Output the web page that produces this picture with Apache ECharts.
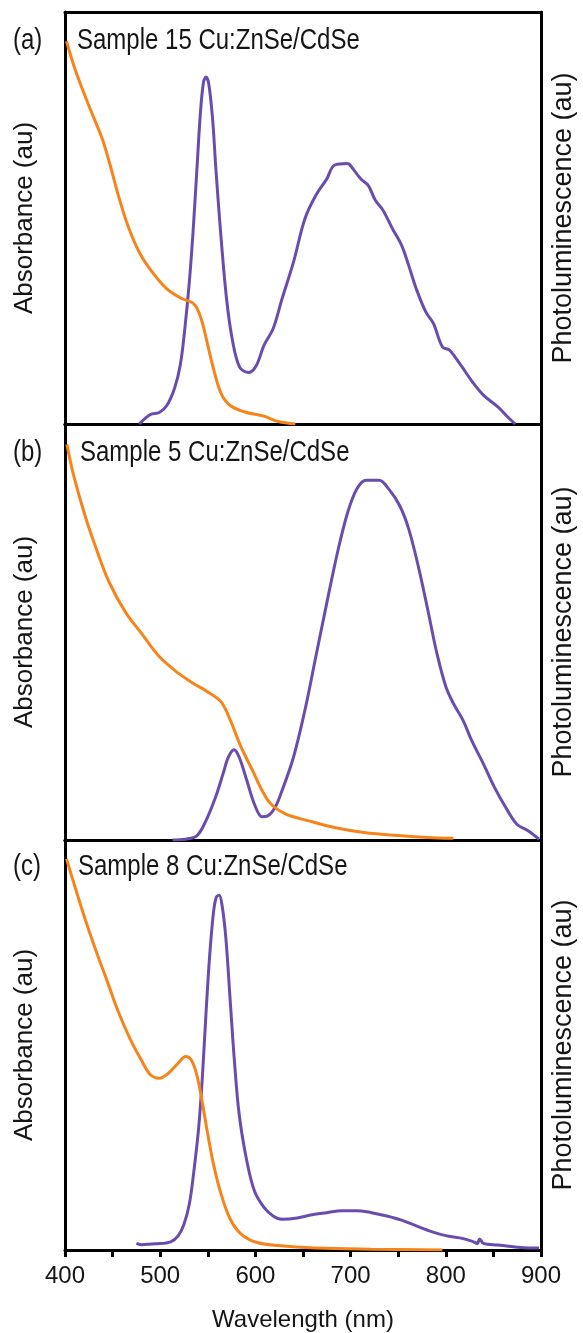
<!DOCTYPE html>
<html>
<head>
<meta charset="utf-8">
<script src="https://cdn.jsdelivr.net/npm/echarts@6/dist/echarts.min.js"></script>
<style>
html,body{margin:0;padding:0;background:#fff;}
#chart{width:583px;height:1333px;}
</style>
</head>
<body>
<div id="chart"></div>
<script>
// ---------- data (wavelength nm, relative intensity 0..1) ----------
const panelLetters = ['(a)', '(b)', '(c)'];
const panelTitles = ['Sample 15 Cu:ZnSe/CdSe', 'Sample 5 Cu:ZnSe/CdSe', 'Sample 8 Cu:ZnSe/CdSe'];
const xTicks = [400, 500, 600, 700, 800, 900];

const absA = [[401.6,0.929],[411,0.858],[425,0.773],[439,0.693],[446.5,0.636],[456,0.555],[466,0.482],[478,0.417],[491.5,0.369],[507,0.328],[523,0.304],[532.5,0.296],[538,0.284],[544,0.248],[550,0.191],[556,0.134],[564,0.074],[573.6,0.045],[589,0.029],[609,0.019],[624,0.006],[642,0]];
const plA = [[478,0],[489.7,0.023],[499,0.028],[507,0.045],[515,0.086],[521,0.142],[525.5,0.223],[530.6,0.345],[534.5,0.466],[538.4,0.612],[542.3,0.757],[545.5,0.830],[548,0.842],[551,0.826],[555,0.741],[558.7,0.612],[564,0.450],[569.7,0.304],[575.6,0.207],[583.4,0.138],[593,0.125],[601,0.142],[609,0.191],[618.6,0.231],[628,0.304],[640,0.393],[652,0.498],[663.5,0.555],[675,0.595],[683,0.628],[697,0.632],[701,0.624],[710.6,0.595],[718.5,0.579],[726,0.543],[734,0.519],[744,0.474],[753.5,0.434],[761,0.385],[769,0.328],[779,0.272],[787,0.244],[796.5,0.187],[804,0.179],[816,0.142],[828,0.102],[839.5,0.070],[855,0.041],[865,0.017],[873,0]];

const absB = [[402,0.951],[409,0.877],[421,0.780],[433,0.699],[446.5,0.619],[464,0.546],[480,0.498],[499,0.441],[519,0.401],[534.5,0.377],[550,0.356],[564,0.332],[573.6,0.288],[585,0.223],[597,0.167],[607,0.119],[616.6,0.086],[632,0.062],[656,0.046],[683,0.030],[714,0.018],[753.5,0.010],[781,0.006],[808,0.004]];
const plB = [[513,0],[526.7,0.002],[538.4,0.010],[548,0.046],[558,0.102],[566,0.159],[571.6,0.199],[577.5,0.217],[583,0.199],[591,0.143],[599,0.086],[607,0.056],[613,0.058],[620.6,0.078],[628,0.119],[640,0.199],[652,0.312],[663.5,0.441],[675,0.570],[687,0.699],[697,0.788],[706.5,0.844],[716.4,0.865],[730,0.865],[740,0.844],[751.5,0.804],[761,0.748],[771,0.659],[781,0.554],[790.6,0.449],[800,0.369],[808,0.328],[818,0.288],[827,0.240],[839.5,0.183],[851,0.127],[863,0.078],[874.6,0.038],[886,0.023],[898,0.002]];

const absC = [[401.6,0.954],[409,0.897],[421,0.808],[433,0.727],[444.6,0.654],[456,0.581],[468,0.517],[480,0.464],[489.5,0.428],[499,0.419],[509,0.432],[519,0.456],[526.7,0.472],[532.5,0.464],[538.4,0.428],[544,0.363],[550,0.282],[556,0.209],[564,0.136],[573.6,0.075],[585,0.039],[601,0.019],[624,0.011],[663.5,0.005],[722,0.002],[796.5,0]];
const plC = [[475,0.016],[480,0.013],[495.5,0.015],[511,0.020],[519,0.035],[525,0.063],[530.6,0.112],[535,0.185],[540.4,0.298],[544,0.411],[548,0.573],[552,0.719],[556,0.824],[559,0.861],[562,0.865],[565,0.840],[569,0.760],[573.6,0.606],[578,0.460],[583,0.330],[591,0.217],[599,0.144],[609,0.104],[618.6,0.083],[628,0.075],[644,0.078],[659.6,0.086],[675,0.091],[691,0.096],[706.5,0.096],[722,0.091],[738,0.083],[753.5,0.073],[769,0.059],[785,0.045],[800,0.035],[816,0.029],[828,0.021],[833,0.016],[835.6,0.027],[839.5,0.016],[855,0.012],[871,0.008],[886.6,0.005],[898,0.005]];

const absSets = [absA, absB, absC];
const plSets = [plA, plB, plC];

// ---------- fonts: prefer a narrow face for horizontal text ----------
function fontAvailable(name) {
  const c = document.createElement('canvas').getContext('2d');
  const s = 'Sample 15 Cu:ZnSe/CdSe 400';
  c.font = '40px monospace';
  const a = c.measureText(s).width;
  c.font = '40px "' + name + '", monospace';
  const b = c.measureText(s).width;
  return Math.abs(a - b) > 0.5;
}
const REG = '"Liberation Sans", Arial, sans-serif';
const hasNarrow = fontAvailable('Liberation Sans Narrow');
const HFONT = hasNarrow ? '"Liberation Sans Narrow", "Liberation Sans", Arial, sans-serif' : REG;
const HSIZE = hasNarrow ? 29 : 24;
const TEXT = '#151515';
const ORANGE = '#F7841A';
const PURPLE = '#6A4CAE';

// ---------- layout ----------
const grids = [
  {left: 65, right: 42, top: 12, height: 412, outerBoundsMode: 'none', containLabel: false},
  {left: 65, right: 42, top: 424, height: 416, outerBoundsMode: 'none', containLabel: false},
  {left: 65, right: 42, top: 840, height: 410, outerBoundsMode: 'none', containLabel: false}
];
const labelY = [41, 453, 867];
const titleX = [77, 80, 78];

const chart = echarts.init(document.getElementById('chart'), null, {renderer: 'canvas'});

const xAxes = [], yAxes = [], series = [], graphics = [];
grids.forEach((g, i) => {
  const last = i === grids.length - 1;
  xAxes.push({
    type: 'value', gridIndex: i, min: 400, max: 900, interval: 50,
    axisLine: {show: true, onZero: false, lineStyle: {color: '#000', width: 3}},
    axisTick: {show: last, length: 7, inside: false, lineStyle: {color: '#000', width: 3}},
    axisLabel: {
      show: last, margin: hasNarrow ? 12 : 14, fontSize: HSIZE, fontFamily: HFONT, color: TEXT,
      formatter: v => (xTicks.indexOf(v) >= 0 ? String(v) : '')
    },
    splitLine: {show: false},
    name: last ? 'Wavelength (nm)' : '',
    nameLocation: 'middle', nameGap: hasNarrow ? 55 : 58,
    nameTextStyle: {fontSize: HSIZE, fontFamily: HFONT, color: TEXT}
  });
  xAxes.push({
    type: 'value', gridIndex: i, position: 'top', min: 400, max: 900,
    axisLine: {show: true, onZero: false, lineStyle: {color: '#000', width: 3}},
    axisTick: {show: false}, axisLabel: {show: false}, splitLine: {show: false}
  });
  yAxes.push({
    type: 'value', gridIndex: i, min: 0, max: 1, position: 'left',
    axisLine: {show: true, onZero: false, lineStyle: {color: '#000', width: 3}},
    axisTick: {show: false}, axisLabel: {show: false}, splitLine: {show: false},
    name: 'Absorbance (au)', nameLocation: 'middle', nameGap: 27, nameRotate: 90,
    nameTextStyle: {fontSize: 26, fontFamily: REG, color: TEXT}
  });
  yAxes.push({
    type: 'value', gridIndex: i, min: 0, max: 1, position: 'right',
    axisLine: {show: true, onZero: false, lineStyle: {color: '#000', width: 3}},
    axisTick: {show: false}, axisLabel: {show: false}, splitLine: {show: false},
    name: 'Photoluminescence (au)', nameLocation: 'middle', nameGap: 9, nameRotate: 90,
    nameTextStyle: {fontSize: 27, fontFamily: REG, color: TEXT}
  });
  series.push({
    type: 'line', xAxisIndex: i * 2, yAxisIndex: i * 2 + 1, data: plSets[i],
    showSymbol: false, smooth: 0.35, clip: true,
    lineStyle: {color: PURPLE, width: 3}, z: 3
  });
  series.push({
    type: 'line', xAxisIndex: i * 2, yAxisIndex: i * 2, data: absSets[i],
    showSymbol: false, smooth: 0.35, clip: true,
    lineStyle: {color: ORANGE, width: 3}, z: 4
  });
  const sY = hasNarrow ? 1 : 1.2;
  graphics.push({
    type: 'text', x: 13, y: labelY[i], scaleY: sY, originY: 0,
    style: {text: panelLetters[i], font: HSIZE + 'px ' + HFONT, fill: TEXT, verticalAlign: 'middle'}
  });
  graphics.push({
    type: 'text', x: titleX[i], y: labelY[i], scaleY: sY, originY: 0,
    style: {text: panelTitles[i], font: HSIZE + 'px ' + HFONT, fill: TEXT, verticalAlign: 'middle'}
  });
});

chart.setOption({
  animation: false,
  backgroundColor: '#ffffff',
  grid: grids,
  xAxis: xAxes,
  yAxis: yAxes,
  series: series,
  graphic: graphics
});
</script>
</body>
</html>
